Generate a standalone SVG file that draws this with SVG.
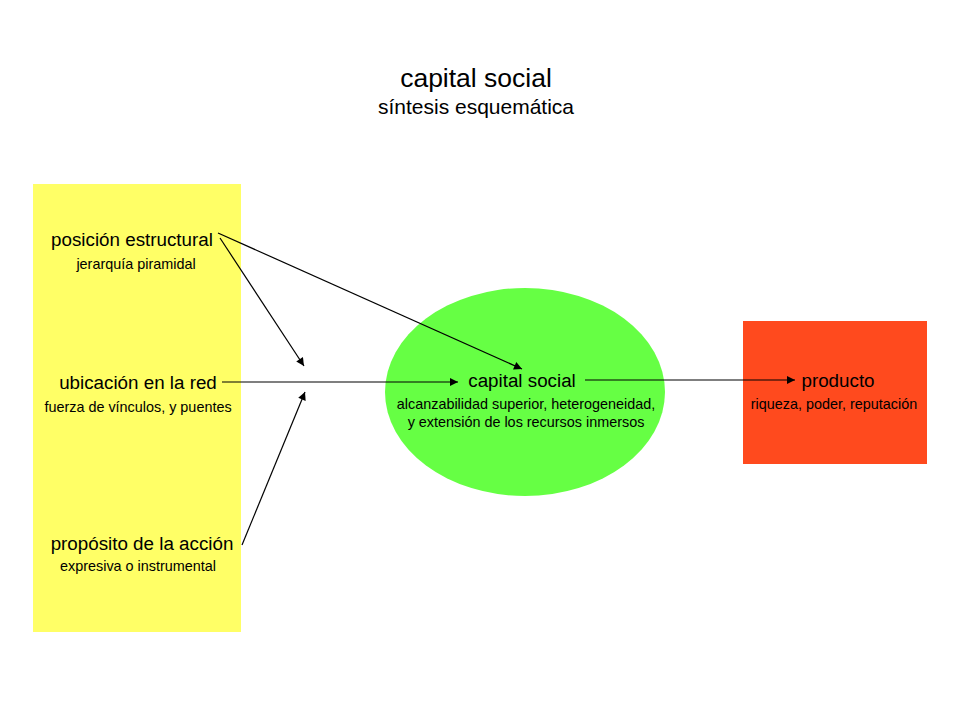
<svg xmlns="http://www.w3.org/2000/svg" width="960" height="720" viewBox="0 0 960 720">
<style>
text{font-family:"Liberation Sans",Arial,sans-serif;fill:#000;text-anchor:middle}
.t1{font-size:26.5px}.t2{font-size:21px}.h{font-size:18.8px}.s{font-size:14.4px}.e{font-size:14.4px}
.c{stroke:#000;stroke-width:1.2;fill:none;marker-end:url(#ah)}
</style>
<defs><marker id="ah" viewBox="0 0 10 10" refX="10" refY="5" markerWidth="10" markerHeight="8" markerUnits="userSpaceOnUse" orient="auto"><path d="M0,0L10,5L0,10z" fill="#000"/></marker></defs>
<rect width="960" height="720" fill="#fff"/>
<g id="title"><text class="t1" x="476" y="87">capital social</text><text class="t2" x="476" y="114">síntesis esquemática</text></g>
<g id="factores"><rect x="33" y="184" width="208" height="448" fill="#FFFF66"/></g>
<g id="posicion"><text class="h" x="132" y="246">posición estructural</text><text class="s" x="136" y="269">jerarquía piramidal</text></g>
<g id="ubicacion"><text class="h" x="138" y="389">ubicación en la red</text><text class="s" x="138" y="412">fuerza de vínculos, y puentes</text></g>
<g id="proposito"><text class="h" x="142" y="550">propósito de la acción</text><text class="s" x="138" y="571">expresiva o instrumental</text></g>
<g id="capital"><ellipse cx="525" cy="392" rx="140" ry="104" fill="#66FF44"/><text class="h" x="522" y="387">capital social</text><text class="e" x="526" y="409">alcanzabilidad superior, heterogeneidad,</text><text class="e" x="526" y="427">y extensión de los recursos inmersos</text></g>
<g id="producto"><rect x="743" y="321" width="184" height="143" fill="#FF4A1E"/><text class="h" x="838" y="387">producto</text><text class="s" x="834" y="409">riqueza, poder, reputación</text></g>
<g id="connectors">
<line class="c" x1="218" y1="233" x2="522" y2="369"/>
<line class="c" x1="220" y1="238" x2="304" y2="366"/>
<line class="c" x1="222" y1="382" x2="458" y2="382"/>
<line class="c" x1="242" y1="545" x2="305" y2="392"/>
<line class="c" x1="585" y1="380" x2="795" y2="380"/>
</g>
</svg>
